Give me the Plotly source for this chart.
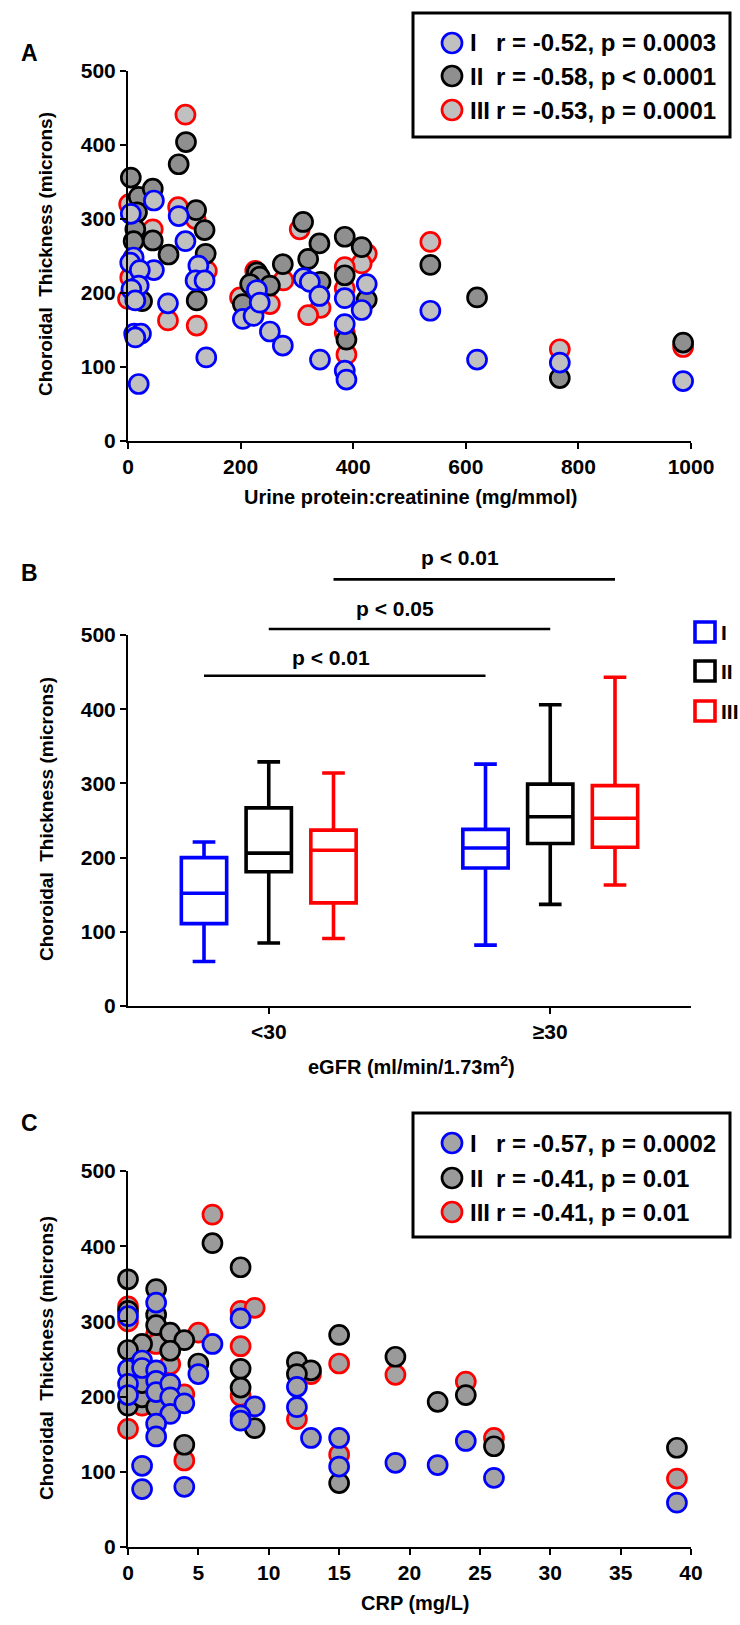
import plotly.graph_objects as go

# ---------------- Panel A data: Urine protein:creatinine vs thickness
a_I_x = [5, 46, 90, 102, 10, 4, 46, 21, 19, 6, 125, 120, 136, 13, 71, 11, 23, 13, 139, 19,
         204, 223, 229, 234, 252, 275, 312, 323, 340, 341, 385, 385, 385, 388, 415, 424, 537, 620, 767, 986]
a_I_y = [307, 325, 304, 270, 248, 241, 231, 231, 210, 205, 237, 217, 217, 190, 186, 145, 145, 140, 113, 77,
         165, 169, 204, 187, 148, 129, 220, 215, 196, 110, 193, 158, 95, 83, 177, 212, 176, 110, 106, 81]
a_II_x = [5, 19, 44, 90, 103, 121, 136, 16, 13, 10, 44, 72, 138, 25, 122, 204, 229, 234, 217, 252,
          275, 311, 320, 340, 342, 385, 415, 385, 424, 388, 537, 620, 767, 986]
a_II_y = [356, 330, 341, 374, 404, 312, 285, 309, 286, 270, 271, 252, 253, 189, 190, 185, 228, 222, 212, 210,
          239, 296, 246, 267, 215, 276, 262, 224, 191, 137, 238, 194, 85, 133]
a_III_x = [102, 2, 89, 120, 44, 140, 4, 0, 71, 122, 199, 252, 226, 276, 305, 342, 320, 424, 415, 385,
           385, 385, 388, 537, 767, 986]
a_III_y = [441, 320, 316, 300, 286, 230, 221, 192, 163, 156, 194, 185, 230, 217, 286, 180, 170, 253, 240, 235,
           206, 146, 117, 269, 124, 127]
a_stats = ["r = -0.52, p = 0.0003", "r = -0.58, p < 0.0001", "r = -0.53, p = 0.0001"]
a_xticks = [0, 200, 400, 600, 800, 1000]

# ---------------- Panel B data: eGFR groups (box summaries)
b_groups = ["<30", "≥30"]
b_I = dict(lo=[60, 82], q1=[111, 186], med=[152, 213], q3=[200, 238], hi=[221, 326])
b_II = dict(lo=[85, 137], q1=[181, 219], med=[206, 255], q3=[267, 299], hi=[329, 406])
b_III = dict(lo=[91, 163], q1=[139, 214], med=[210, 253], q3=[237, 297], hi=[314, 443])
b_sig_levels = [445, 508, 575]
b_sig_text_levels = [470, 536, 604]
b_sig_labels = ["p < 0.01", "p < 0.05", "p < 0.01"]

# ---------------- Panel C data: CRP vs thickness
c_I_x = [2, 0, 6, 5, 8, 9, 8, 8, 12, 12, 13, 0, 1, 1, 0, 0, 2, 2, 2, 3, 3, 3, 4, 2, 2, 1, 1, 4,
         24, 26, 19, 22, 15, 15, 39]
c_I_y = [325, 307, 270, 230, 304, 187, 175, 168, 213, 186, 145, 236, 248, 238, 217, 202, 235, 221, 206, 217,
         199, 177, 191, 164, 147, 108, 77, 80, 141, 92, 112, 109, 145, 107, 59]
c_II_x = [6, 8, 0, 2, 0, 2, 2, 3, 4, 3, 1, 0, 5, 8, 8, 9, 12, 13, 12, 0, 1, 4, 15, 19, 24, 22, 26, 15, 39, 2, 1]
c_II_y = [404, 372, 356, 343, 314, 309, 295, 285, 275, 261, 270, 262, 244, 237, 212, 158, 246, 235, 230, 188,
          199, 136, 282, 253, 202, 193, 134, 85, 132, 186, 218]
c_III_x = [6, 0, 0, 2, 5, 3, 8, 9, 8, 8, 13, 12, 0, 4, 1, 4, 15, 19, 24, 26, 15, 39, 2]
c_III_y = [442, 320, 300, 283, 285, 243, 314, 318, 267, 201, 230, 170, 157, 203, 188, 115, 244, 229, 220, 145,
           123, 91, 270]
c_stats = ["r = -0.57, p = 0.0002", "r = -0.41, p = 0.01", "r = -0.41, p = 0.01"]
c_xticks = [0, 5, 10, 15, 20, 25, 30, 35, 40]

y_ticks = [0, 100, 200, 300, 400, 500]
series_names = ["I", "II", "III"]

# ---------------- styling
W, H = 740, 1625
BLUE, BLACK, RED = "#0000FF", "#000000", "#FF0000"
FONT = "Liberation Sans, Arial, sans-serif"


def px(x):
    return x / W


def py(y):
    return 1 - y / H


XDOM = [px(128), px(691)]
A_DOM = [py(441), py(71)]
B_DOM = [py(1006), py(635)]
C_DOM = [py(1547), py(1171)]

fig = go.Figure()

MSIZE = 19
MLINE = 2.7


def scatter(x, y, xa, ya, outline, fill, name):
    fig.add_trace(go.Scatter(
        x=x, y=y, mode="markers", name=name, showlegend=False, cliponaxis=False,
        xaxis=xa, yaxis=ya,
        marker=dict(size=MSIZE, color=fill, line=dict(color=outline, width=MLINE))))


A_FILL = {"I": "#C0C0C0", "II": "#8F8F8F", "III": "#C0C0C0"}
C_FILL = {"I": "#A4A4A4", "II": "#9A9A9A", "III": "#A4A4A4"}

# drawing order: III (red) bottom, II (black), I (blue) top
scatter(a_III_x, a_III_y, "x", "y", RED, A_FILL["III"], "III")
scatter(a_II_x, a_II_y, "x", "y", BLACK, A_FILL["II"], "II")
scatter(a_I_x, a_I_y, "x", "y", BLUE, A_FILL["I"], "I")

scatter(c_III_x, c_III_y, "x3", "y3", RED, C_FILL["III"], "III")
scatter(c_II_x, c_II_y, "x3", "y3", BLACK, C_FILL["II"], "II")
scatter(c_I_x, c_I_y, "x3", "y3", BLUE, C_FILL["I"], "I")

for name, st, col in zip(series_names, [b_I, b_II, b_III], [BLUE, BLACK, RED]):
    fig.add_trace(go.Box(
        x=b_groups, q1=st["q1"], median=st["med"], q3=st["q3"],
        lowerfence=st["lo"], upperfence=st["hi"], name=name, offsetgroup=name,
        xaxis="x2", yaxis="y2", showlegend=False, boxpoints=False,
        line=dict(color=col, width=3.6), fillcolor="rgba(0,0,0,0)", whiskerwidth=0.5))

tickfont = dict(family=FONT, size=21, color="black", weight="bold")
axcommon = dict(showline=True, linecolor="black", linewidth=2, ticks="outside", ticklen=6,
                tickwidth=2, tickcolor="black", showgrid=False, zeroline=False,
                tickfont=tickfont, automargin=False)

fig.update_layout(
    width=W, height=H, margin=dict(l=0, r=0, t=0, b=0),
    paper_bgcolor="white", plot_bgcolor="white", showlegend=False,
    boxmode="group", boxgap=0.31, boxgroupgap=0.3,
    xaxis=dict(domain=XDOM, range=[0, 1000], tickvals=a_xticks, anchor="y", **axcommon),
    yaxis=dict(domain=A_DOM, range=[0, 500], tickvals=y_ticks, anchor="x", **axcommon),
    xaxis2=dict(domain=XDOM, type="category", categoryorder="array", categoryarray=b_groups,
                range=[-0.5, 1.5], anchor="y2", **axcommon),
    yaxis2=dict(domain=B_DOM, range=[0, 500], tickvals=y_ticks, anchor="x2", **axcommon),
    xaxis3=dict(domain=XDOM, range=[0, 40], tickvals=c_xticks, anchor="y3", **axcommon),
    yaxis3=dict(domain=C_DOM, range=[0, 500], tickvals=y_ticks, anchor="x3", **axcommon),
)

annotations = []
shapes = []


def text(x, y, s, size=21, xanchor="center", yanchor="middle", angle=0, xref="paper", yref="paper", xshift=0):
    annotations.append(dict(x=x, y=y, xref=xref, yref=yref, text=s, showarrow=False,
                            xanchor=xanchor, yanchor=yanchor, textangle=angle, xshift=xshift,
                            font=dict(family=FONT, size=size, color="black", weight="bold")))


# panel letters
text(px(29), py(53), "A", size=23)
text(px(29), py(573), "B", size=23)
text(px(29), py(1123), "C", size=23)

# axis titles
ytitle = "Choroidal  Thickness (microns)"
text(px(46), py(254), ytitle, size=19, angle=-90)
text(px(46), py(819), ytitle, size=19, angle=-90)
text(px(46), py(1358), ytitle, size=19, angle=-90)
text(px(410), py(497), "Urine protein:creatinine (mg/mmol)", size=20)
text(px(411), py(1065), "eGFR (ml/min/1.73m<sup>2</sup>)", size=20)
text(px(415), py(1603), "CRP (mg/L)", size=20)


# scatter legends (boxes)
def scatter_legend(top, bottom, rows, stats, fills):
    shapes.append(dict(type="rect", xref="paper", yref="paper", x0=px(413), x1=px(730),
                       y0=py(bottom), y1=py(top), line=dict(color="black", width=3),
                       fillcolor="white", layer="above"))
    for ry, nm, st, col in zip(rows, series_names, stats, [BLUE, BLACK, RED]):
        shapes.append(dict(type="circle", xref="paper", yref="paper",
                           x0=px(452 - 10), x1=px(452 + 10), y0=py(ry + 10), y1=py(ry - 10),
                           line=dict(color=col, width=MLINE), fillcolor=fills[nm], layer="above"))
        text(px(468), py(ry), nm, size=24, xanchor="left")
        text(px(494), py(ry), st, size=24, xanchor="left")


scatter_legend(13, 137, [43, 76, 110], a_stats, A_FILL)
scatter_legend(1113, 1237, [1143, 1178, 1212], c_stats, C_FILL)

# box legend
for ry, nm, col in zip([632, 671, 711], series_names, [BLUE, BLACK, RED]):
    shapes.append(dict(type="rect", xref="paper", yref="paper",
                       x0=px(705 - 10), x1=px(705 + 10), y0=py(ry + 10), y1=py(ry - 10),
                       line=dict(color=col, width=3.6), fillcolor="rgba(0,0,0,0)"))
    text(px(719), py(ry), nm, xanchor="left")

# significance bars: from each series' <30 box to its >=30 box
offsets = [-0.23, 0.0, 0.23]
b_h = B_DOM[1] - B_DOM[0]
for off, lvl, tl, lab in zip(offsets, b_sig_levels, b_sig_text_levels, b_sig_labels):
    xa = (0 + off + 0.5) / 2
    xb = (1 + off + 0.5) / 2
    shapes.append(dict(type="line", xref="x2 domain", yref="y2 domain",
                       x0=xa, x1=xb, y0=lvl / 500, y1=lvl / 500,
                       line=dict(color="black", width=2.6)))
    xmid = XDOM[0] + (xa + xb) / 2 * (XDOM[1] - XDOM[0])
    text(xmid, B_DOM[0] + tl / 500 * b_h, lab, xshift=-14)

fig.update_layout(annotations=annotations, shapes=shapes)
fig.write_html(
    "out.html",
    config={"displayModeBar": False},
    post_script="document.body.style.margin='0';document.body.style.padding='0';"
                "document.body.style.overflow='hidden';",
)
